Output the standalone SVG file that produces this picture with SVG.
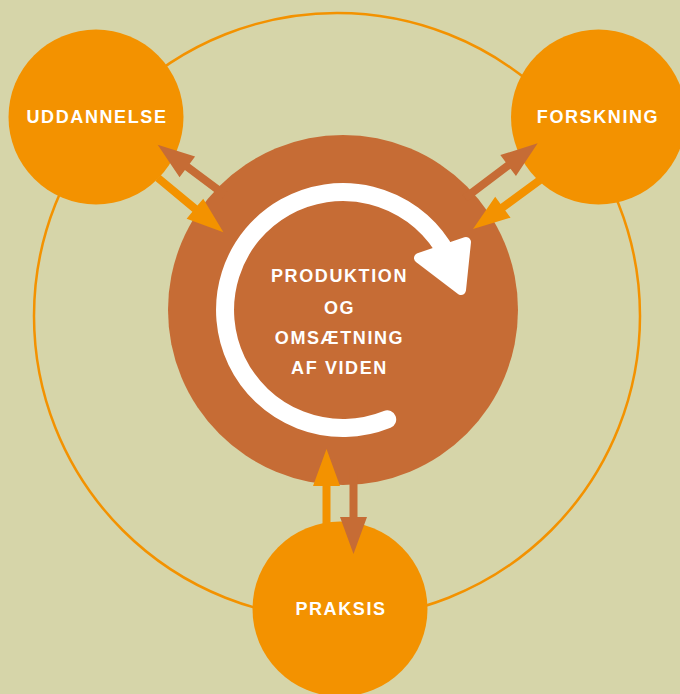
<svg xmlns="http://www.w3.org/2000/svg" width="680" height="694" viewBox="0 0 680 694">
<style>
.lbl{font-family:"Liberation Sans",Arial,sans-serif;font-weight:bold;font-size:18px;fill:#ffffff;text-anchor:middle;letter-spacing:1.6px}
.sat{fill:#f39200}
.core{fill:#c66c35}
.ao{fill:#f39200}
.ab{fill:#c66c35}
</style>
<rect x="0" y="0" width="680" height="694" fill="#d6d5a9"/>
<circle cx="337" cy="316" r="303" fill="none" stroke="#f39200" stroke-width="2.5"/>
<g id="center">
<circle class="core" cx="343" cy="310" r="175"/>
<path d="M387.2,419.4 A118,118 0 1 1 442,245.7" fill="none" stroke="#ffffff" stroke-width="18" stroke-linecap="round"/>
<polygon points="419,258 466,242 461,290" fill="#ffffff" stroke="#ffffff" stroke-width="10" stroke-linejoin="round"/>
<text class="lbl" x="339.5" y="282">PRODUKTION</text>
<text class="lbl" x="339.5" y="314">OG</text>
<text class="lbl" x="339.5" y="344">OMSÆTNING</text>
<text class="lbl" x="339.5" y="374">AF VIDEN</text>
</g>
<g id="uddannelse">
<circle class="sat" cx="96" cy="117" r="87.5"/>
<text class="lbl" x="97" y="123">UDDANNELSE</text>
</g>
<g id="forskning">
<circle class="sat" cx="598.5" cy="117" r="87.5"/>
<text class="lbl" x="598" y="123">FORSKNING</text>
</g>
<g id="praksis">
<circle class="sat" cx="340" cy="609" r="87.5"/>
<text class="lbl" x="341" y="615">PRAKSIS</text>
</g>
<g id="connectors">
<polygon class="ab" transform="translate(225,195) rotate(216.7)" points="0,-4 47,-4 47,-13 84,0 47,13 47,4 0,4"/>
<polygon class="ao" transform="translate(158,178) rotate(39.7)" points="0,-4 48,-4 48,-13 85,0 48,13 48,4 0,4"/>
<polygon class="ab" transform="translate(465,198) rotate(-37)" points="0,-4 54,-4 54,-13 91,0 54,13 54,4 0,4"/>
<polygon class="ao" transform="translate(540,180) rotate(143.8)" points="0,-4 46,-4 46,-13 83,0 46,13 46,4 0,4"/>
<polygon class="ao" transform="translate(326.5,530) rotate(-90)" points="0,-4 44,-4 44,-13.5 81,0 44,13.5 44,4 0,4"/>
<polygon class="ab" transform="translate(353.5,468) rotate(90)" points="0,-4 49,-4 49,-13.5 86,0 49,13.5 49,4 0,4"/>
</g>
</svg>
